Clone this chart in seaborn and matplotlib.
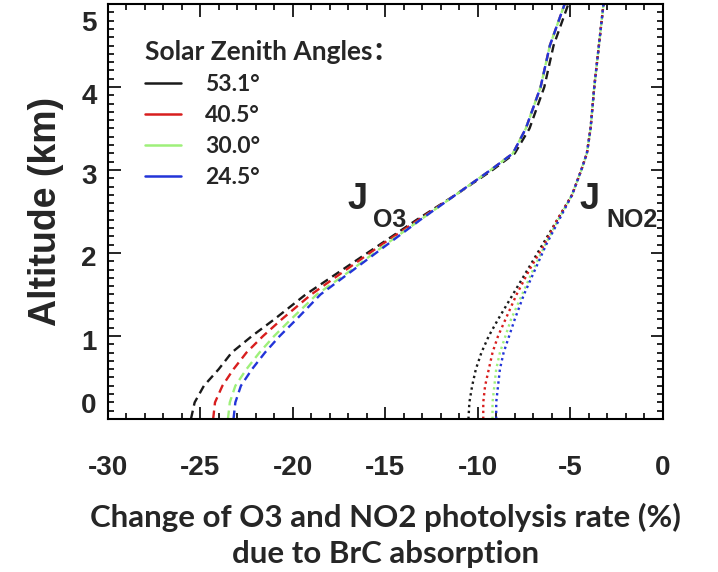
import numpy as np
import pandas as pd
import seaborn as sns
import matplotlib.pyplot as plt
import matplotlib.transforms as mtransforms
from matplotlib.lines import Line2D
from matplotlib.ticker import MultipleLocator

# altitude levels (km)
alt = [0, 0.2, 0.4, 0.6, 0.8, 1.0, 1.2, 1.5, 1.8, 2.1, 2.4, 2.7, 3.0, 3.2, 3.5, 4.0, 4.5, 5.0]

sza_labels = ['53.1°', '40.5°', '30.0°', '24.5°']
sza_colors = ['#1a1a1a', '#d81e1e', '#9ef07a', '#2234d8']

# change of J(O3) (%)
jo3_531 = [-25.5, -25.3, -24.8, -24.0, -23.3, -22.2, -21.0, -19.3, -17.3, -15.3, -13.3, -11.2, -9.2, -8.0, -7.2, -6.4, -5.9, -5.1]
jo3_405 = [-24.3, -24.2, -23.8, -23.2, -22.5, -21.6, -20.6, -19.0, -17.1, -15.2, -13.2, -11.2, -9.3, -8.1, -7.4, -6.6, -6.1, -5.3]
jo3_300 = [-23.5, -23.4, -23.1, -22.5, -21.8, -21.0, -20.1, -18.7, -16.8, -15.0, -13.1, -11.2, -9.3, -8.1, -7.4, -6.6, -6.1, -5.3]
jo3_245 = [-23.2, -23.1, -22.8, -22.2, -21.5, -20.7, -19.8, -18.5, -16.7, -14.9, -13.1, -11.2, -9.3, -8.1, -7.4, -6.6, -6.1, -5.3]

# change of J(NO2) (%)
jno2_531 = [-10.5, -10.45, -10.3, -10.1, -9.8, -9.4, -8.9, -8.1, -7.3, -6.5, -5.7, -4.9, -4.4, -4.1, -3.9, -3.7, -3.45, -3.2]
jno2_405 = [-9.7, -9.7, -9.6, -9.4, -9.2, -8.9, -8.5, -7.9, -7.2, -6.4, -5.7, -4.9, -4.4, -4.1, -3.9, -3.7, -3.45, -3.2]
jno2_300 = [-9.2, -9.2, -9.1, -9.0, -8.8, -8.5, -8.2, -7.6, -7.0, -6.35, -5.65, -4.9, -4.4, -4.1, -3.9, -3.7, -3.45, -3.2]
jno2_245 = [-9.0, -9.0, -8.9, -8.8, -8.6, -8.3, -8.0, -7.5, -6.9, -6.3, -5.6, -4.9, -4.4, -4.1, -3.9, -3.7, -3.45, -3.2]

xticks = [-30, -25, -20, -15, -10, -5, 0]
yticks = [0, 1, 2, 3, 4, 5]

# long table for seaborn
rows = []
for lab, o3, no2 in zip(sza_labels, [jo3_531, jo3_405, jo3_300, jo3_245],
                        [jno2_531, jno2_405, jno2_300, jno2_245]):
    for a, v in zip(alt, o3):
        rows.append({'alt': a, 'change': v, 'sza': lab, 'rate': 'O3'})
    for a, v in zip(alt, no2):
        rows.append({'alt': a, 'change': v, 'sza': lab, 'rate': 'NO2'})
df = pd.DataFrame(rows)

sns.set_style('ticks')
plt.rcParams['font.family'] = ['Liberation Sans', 'DejaVu Sans']
plt.rcParams['axes.unicode_minus'] = False

fig = plt.figure(figsize=(7.18, 5.72), dpi=100)
ax = fig.add_axes([0.150, 0.2675, 0.773, 0.7255])

sns.lineplot(data=df, x='change', y='alt', hue='sza', style='rate',
             hue_order=sza_labels, palette=dict(zip(sza_labels, sza_colors)),
             style_order=['O3', 'NO2'], dashes={'O3': (3.6, 2.2), 'NO2': (1, 1.5)},
             orient='y', sort=False, estimator=None, linewidth=1.7,
             legend=False, ax=ax)

ax.set_xlim(-30, 0)
ax.set_ylim(0, 5)
ax.set_xticks(xticks)
ax.set_yticks(yticks)
ax.xaxis.set_minor_locator(MultipleLocator(1))
ax.yaxis.set_minor_locator(MultipleLocator(0.1))
ax.tick_params(which='both', direction='in', top=True, right=True, width=1.2, color='black')
ax.tick_params(which='major', length=9)
ax.tick_params(which='minor', length=4)
ax.tick_params(axis='x', which='major', pad=26, labelsize=20)
ax.tick_params(axis='y', which='major', pad=8, labelsize=20)
for t in ax.get_xticklabels() + ax.get_yticklabels():
    t.set_fontweight('bold')
for s in ax.spines.values():
    s.set_linewidth(1.5)
    s.set_color('black')

# y tick labels in the original sit a little off their ticks
y_shift_px = [-16, 4, 3, 4, 7, 17]
for t, dy in zip(ax.get_yticklabels(), y_shift_px):
    t.set_transform(t.get_transform() + mtransforms.ScaledTranslation(0, -dy / 100, fig.dpi_scale_trans))

ax.set_ylabel('Altitude (km)', fontsize=27, fontweight='bold', labelpad=12)
ax.set_xlabel('Change of O3 and NO2 photolysis rate (%)\ndue to BrC absorption',
              fontsize=22.5, fontweight='bold', family=['Lato', 'DejaVu Sans'],
              labelpad=16, linespacing=1.35)

# J labels
ax.text(-16.5, 2.64, 'J', fontsize=26, fontweight='bold', ha='center', va='center')
ax.text(-14.75, 2.40, 'O3', fontsize=18, fontweight='bold', ha='center', va='center')
ax.text(-3.95, 2.64, 'J', fontsize=26, fontweight='bold', ha='center', va='center')
ax.text(-1.65, 2.40, 'NO2', fontsize=18, fontweight='bold', ha='center', va='center')

# legend with solid line handles
handles = [Line2D([], [], color=c, lw=1.8) for c in sza_colors]
leg = ax.legend(handles, sza_labels, title='Solar Zenith Angles：', loc='upper left',
                bbox_to_anchor=(0.05, 0.935), frameon=False, handlelength=1.6,
                handletextpad=1.05, labelspacing=0.44, borderaxespad=0,
                prop={'family': ['Lato', 'DejaVu Sans'], 'weight': 'bold', 'size': 16.5},
                alignment='left')
leg.get_title().set_fontweight('bold')
leg.get_title().set_fontsize(19)
leg.get_title().set_family(['Lato', 'Noto Sans CJK SC', 'DejaVu Sans'])

fig.savefig('out.png', dpi=100)
